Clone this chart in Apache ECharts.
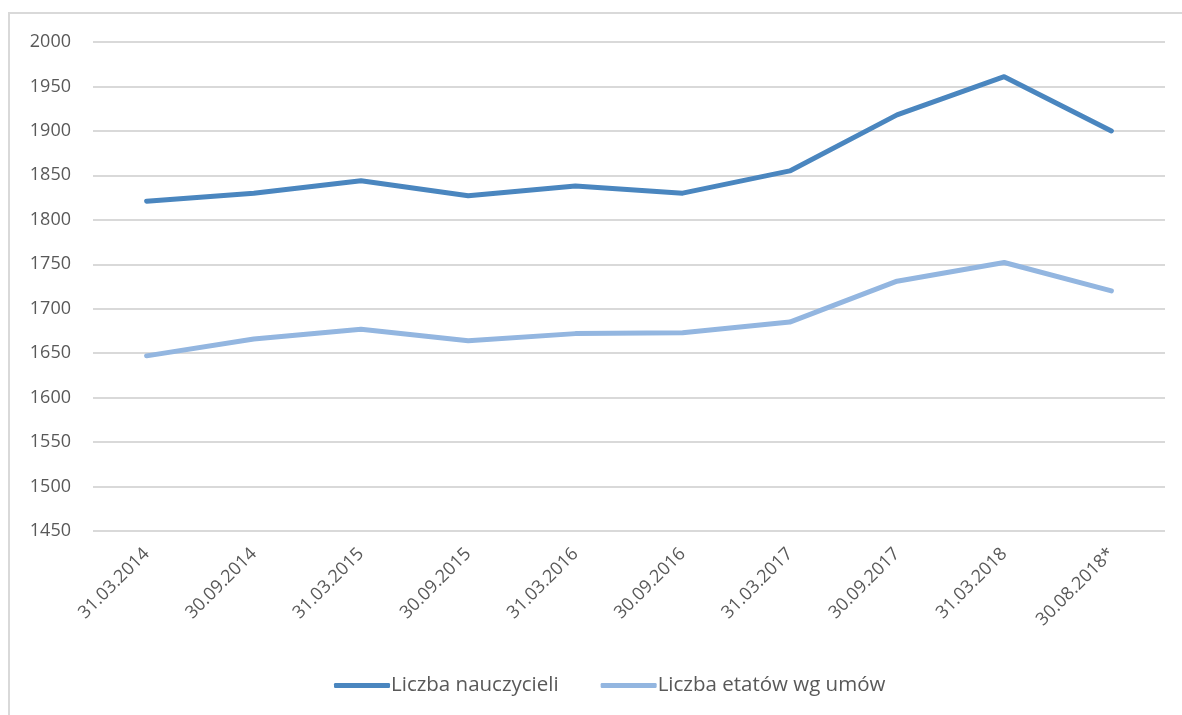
<!DOCTYPE html>
<html>
<head>
<meta charset="utf-8">
<script src="https://cdn.jsdelivr.net/npm/echarts@6/dist/echarts.min.js"></script>
<style>html,body{margin:0;padding:0;background:#fff}#c{width:1182px;height:715px}</style>
</head>
<body>
<div id="c"></div>
<script>
var categories = ['31.03.2014','30.09.2014','31.03.2015','30.09.2015','31.03.2016','30.09.2016','31.03.2017','30.09.2017','31.03.2018','30.08.2018*'];
var teachers = [1821, 1830, 1844, 1827, 1838, 1830, 1855, 1918, 1961, 1900];
var posts = [1647, 1666, 1677, 1664, 1672, 1673, 1685, 1731, 1752, 1720];
var seriesNames = ['Liczba nauczycieli', 'Liczba etatów wg umów'];

var font = '"Open Sans", "Noto Sans", sans-serif';
var chart = echarts.init(document.getElementById('c'), null, {renderer: 'canvas'});
chart.setOption({
  animation: false,
  backgroundColor: '#fff',
  graphic: [{
    type: 'rect', shape: {x: 9, y: 13, width: 1200, height: 720},
    style: {fill: 'none', stroke: '#D9D9D9', lineWidth: 2}, silent: true
  }],
  grid: {left: 93, right: 17, top: 42, bottom: 184},
  legend: {
    bottom: 14, left: 329, itemWidth: 56, itemHeight: 5, itemGap: 42,
    icon: 'roundRect',
    textStyle: {fontFamily: font, fontSize: 20.5, color: '#595959', padding: [0,0,0,-4]},
    data: seriesNames
  },
  xAxis: {
    type: 'category', data: categories, boundaryGap: true,
    axisLine: {show: false}, axisTick: {show: false},
    axisLabel: {rotate: 45, fontFamily: font, fontSize: 18, color: '#595959', margin: 20, interval: 0}
  },
  yAxis: {
    type: 'value', min: 1450, max: 2000, interval: 50,
    axisLine: {show: false}, axisTick: {show: false},
    axisLabel: {fontFamily: font, fontSize: 18, color: '#595959', margin: 22,
      formatter: function (v) { return String(v); }},
    splitLine: {lineStyle: {color: '#D9D9D9', width: 2}}
  },
  series: [
    {name: seriesNames[0], type: 'line', data: teachers, symbol: 'none',
     lineStyle: {color: '#4A86BF', width: 5, cap: 'round', join: 'round'}, itemStyle: {color: '#4A86BF'}},
    {name: seriesNames[1], type: 'line', data: posts, symbol: 'none',
     lineStyle: {color: '#93B6E0', width: 5, cap: 'round', join: 'round'}, itemStyle: {color: '#93B6E0'}}
  ]
});
</script>
</body>
</html>
